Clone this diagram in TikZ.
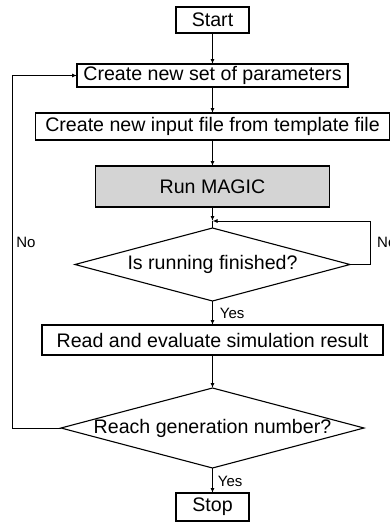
\documentclass[tikz,border=0pt]{standalone}
\usepackage{fontspec}
\setmainfont{Liberation Sans}
\usetikzlibrary{arrows.meta,calc,positioning,shapes.geometric}
\tikzset{>=Latex}
\tikzset{
  box/.style={draw, line width=1.1pt, fill=white, inner xsep=4pt, inner ysep=0pt, outer sep=0pt, align=center, font=\fontsize{19.6}{22}\selectfont},
  runbox/.style={box, fill=black!17},
  decision/.style={diamond, draw, line width=1.1pt, fill=white, inner sep=0pt, outer sep=0pt, aspect=3.8, font=\fontsize{19.6}{22}\selectfont},
  arrow/.style={-{Latex[length=5pt,width=4pt]}, line width=0.9pt},
  plain/.style={line width=0.9pt},
  lbl/.style={font=\fontsize{15}{17}\selectfont, inner sep=1pt},
}

\begin{document}
\begin{tikzpicture}[x=1pt, y=1pt]
\useasboundingbox (0,0) rectangle (390,-523);

\node[box, minimum width=73pt, minimum height=26pt] (start) at (212.5,-20) {Start};
\node[box, below=31pt of start, minimum width=271pt, minimum height=23pt] (params) {Create new set of parameters};
\node[box, below=26pt of params, minimum width=354pt, minimum height=27pt] (input) {Create new input file from template file};
\node[runbox, below=26pt of input, minimum width=234pt, minimum height=41pt] (run) {Run MAGIC};
\coordinate[below=14pt of run.south] (jn);
\node[decision, below=21pt of run, minimum width=275pt, minimum height=73pt] (check) {\makebox[0pt]{Is running finished?}};
\node[box, below=24pt of check, minimum width=341pt, minimum height=30pt] (read) {Read and evaluate simulation result};
\node[decision, below=33pt of read, minimum width=303pt, minimum height=80pt] (gen) {\makebox[0pt]{Reach generation number?}};
\node[box, below=25pt of gen, minimum width=73pt, minimum height=28pt] (stop) {Stop};

\coordinate (rgt) at (370,0);
\coordinate (lft) at (12,0);

\draw[arrow] (start) -- (params);
\draw[arrow] (params) -- (input);
\draw[arrow] (input) -- (run);
\draw[arrow] (run) -- (jn);
\draw[plain] (jn) -- (check);
\draw[arrow] (check) -- node[lbl, right=6pt] (yes1) {Yes} (read);
\draw[arrow] (read) -- (gen);
\draw[arrow] (gen) -- node[lbl, right=4pt, pos=0.55] (yes2) {Yes} (stop);

% loops back
\draw[arrow] (check.east) -- (check.east -| rgt) |- (jn);
\draw[arrow] (gen.west) -- (gen.west -| lft) |- (params.west);
\node[lbl, anchor=west] (noright) at (376,-242) {No};
\node[lbl] (noleft) at (26,-242) {No};
\end{tikzpicture}
\end{document}
